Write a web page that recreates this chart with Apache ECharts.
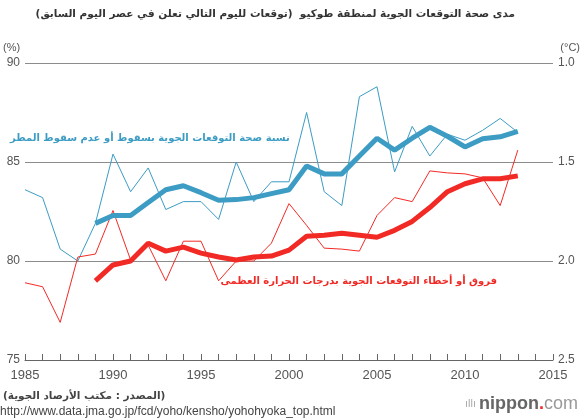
<!DOCTYPE html>
<html>
<head>
<meta charset="utf-8">
<script src="https://cdn.jsdelivr.net/npm/echarts@6/dist/echarts.min.js"></script>
<style>
html, body { margin: 0; padding: 0; background: #fff; }
#chart { width: 584px; height: 420px; }
</style>
</head>
<body>
<div id="chart"></div>
<script>
// سنوات السلسلة
var years = [1985, 1986, 1987, 1988, 1989, 1990, 1991, 1992, 1993, 1994, 1995, 1996, 1997, 1998, 1999,
	2000, 2001, 2002, 2003, 2004, 2005, 2006, 2007, 2008, 2009, 2010, 2011, 2012, 2013];
var avgYears = years.slice(4); // المتوسط يبدأ من 1989

// نسبة صحة توقع المطر (%)
var rainRate = [83.6, 83.2, 80.6, 80.0, 81.9, 85.4, 83.5, 84.7, 82.6, 83.0, 83.0, 82.1, 85.0, 83.0, 84.0,
	84.0, 87.5, 83.5, 82.8, 88.3, 88.8, 84.5, 86.8, 85.3, 86.4, 86.1, 86.6, 87.2, 86.5];
var rainAvg = [81.9, 82.3, 82.3, 82.95, 83.6, 83.8, 83.45, 83.07, 83.1, 83.2, 83.4,
	83.6, 84.8, 84.4, 84.4, 85.3, 86.2, 85.6, 86.2, 86.75, 86.3, 85.76, 86.17, 86.27, 86.55];

// خطأ توقع درجة الحرارة العظمى (°C)
var tempErr = [2.11, 2.13, 2.31, 1.98, 1.965, 1.745, 1.995, 1.92, 2.10, 1.90, 1.90, 2.10, 2.00, 2.00, 1.91,
	1.71, 1.82, 1.935, 1.94, 1.95, 1.77, 1.68, 1.70, 1.545, 1.555, 1.56, 1.58, 1.72, 1.44];
var tempAvg = [2.10, 2.02, 2.00, 1.91, 1.95, 1.93, 1.96, 1.98, 1.995, 1.98, 1.975,
	1.945, 1.875, 1.87, 1.86, 1.87, 1.88, 1.845, 1.80, 1.73, 1.65, 1.61, 1.585, 1.585, 1.57];

var xTicks = [1985, 1990, 1995, 2000, 2005, 2010, 2015];
var pctTicks = [75, 80, 85, 90];
var degTicks = [1.0, 1.5, 2.0, 2.5];

function pairs(xs, ys) {
	return xs.map(function (x, i) { return [x, ys[i]]; });
}

var BLUE = '#3c9cc3';
var RED = '#f22a26';
var FONT = 'Liberation Sans, Arial, sans-serif';
var AR = 'DejaVu Sans, sans-serif';
var RLM = '\u200F';

var Chart = echarts.init(document.getElementById('chart'));
var option = {
	animation: false,
	backgroundColor: '#fff',
	grid: { left: 25, right: 31, top: 63, bottom: 60 },
	xAxis: {
		type: 'value',
		min: xTicks[0],
		max: xTicks[xTicks.length - 1],
		interval: 5,
		axisLine: { show: true, lineStyle: { color: '#666', width: 1 } },
		axisTick: { show: true, inside: true, length: 6, lineStyle: { color: '#666' } },
		minorTick: { show: true, splitNumber: 5, length: 6, lineStyle: { color: '#666' } },
		splitLine: { show: false },
		axisLabel: {
			color: '#555', fontSize: 13, fontFamily: FONT, margin: 9,
			formatter: function (v) { return String(v); }
		}
	},
	yAxis: [{
		type: 'value',
		min: pctTicks[0],
		max: pctTicks[pctTicks.length - 1],
		interval: 5,
		axisLine: { show: false },
		axisTick: { show: false },
		splitLine: { show: true, lineStyle: { color: '#8c8c8c', width: 1 } },
		axisLabel: { color: '#555', fontSize: 12, fontFamily: FONT, margin: 5 }
	}, {
		type: 'value',
		inverse: true,
		min: degTicks[0],
		max: degTicks[degTicks.length - 1],
		interval: 0.5,
		axisLine: { show: false },
		axisTick: { show: false },
		splitLine: { show: false },
		axisLabel: {
			color: '#555', fontSize: 12, fontFamily: FONT, margin: 5,
			formatter: function (v) { return v.toFixed(1); }
		}
	}],
	series: [{
		type: 'line',
		data: pairs(years, rainRate),
		symbol: 'none',
		lineStyle: { color: BLUE, width: 1 },
		z: 2
	}, {
		type: 'line',
		data: pairs(avgYears, rainAvg),
		symbol: 'none',
		lineStyle: { color: BLUE, width: 5 },
		z: 3
	}, {
		type: 'line',
		yAxisIndex: 1,
		data: pairs(years, tempErr),
		symbol: 'none',
		lineStyle: { color: RED, width: 1 },
		z: 2
	}, {
		type: 'line',
		yAxisIndex: 1,
		data: pairs(avgYears, tempAvg),
		symbol: 'none',
		lineStyle: { color: RED, width: 5 },
		z: 3
	}],
	graphic: [{
		type: 'text', right: 69, top: 9,
		style: {
			text: RLM + 'مدى صحة التوقعات الجوية لمنطقة طوكيو  (توقعات لليوم التالي تعلن في عصر اليوم السابق)' + RLM,
			fill: '#333', font: 'bold 10.5px ' + AR
		}
	}, {
		type: 'text', left: 3, top: 42,
		style: { text: '(%)', fill: '#555', font: '11px ' + FONT }
	}, {
		type: 'text', right: 4, top: 42,
		style: { text: '(°C)', fill: '#555', font: '11px ' + FONT }
	}, {
		type: 'text', left: 10, top: 133,
		style: {
			text: RLM + 'نسبة صحة التوقعات الجوية بسقوط أو عدم سقوط المطر' + RLM,
			fill: BLUE, font: 'bold 10px ' + AR
		}
	}, {
		type: 'text', right: 87, top: 276,
		style: {
			text: RLM + 'فروق أو أخطاء التوقعات الجوية بدرجات الحرارة العظمى' + RLM,
			fill: RED, font: 'bold 10px ' + AR
		}
	}, {
		type: 'text', left: 3, top: 391,
		style: {
			text: RLM + '(المصدر : مكتب الأرصاد الجوية)' + RLM,
			fill: '#444', font: 'bold 10.5px ' + AR
		}
	}, {
		type: 'text', left: 0, top: 406,
		style: {
			text: 'http://www.data.jma.go.jp/fcd/yoho/kensho/yohohyoka_top.html',
			fill: '#444', font: '12px ' + FONT
		}
	}, {
		type: 'text', right: 6, top: 395,
		style: {
			text: '{i|ıllı }{n|nippon}{d|.}{c|com}',
			rich: {
				i: { fill: '#aaa', font: '11px ' + FONT },
				n: { fill: '#666', font: 'bold 18px ' + FONT },
				d: { fill: RED, font: 'bold 18px ' + FONT },
				c: { fill: '#999', font: '18px ' + FONT }
			}
		}
	}]
};
Chart.setOption(option);
</script>
</body>
</html>
